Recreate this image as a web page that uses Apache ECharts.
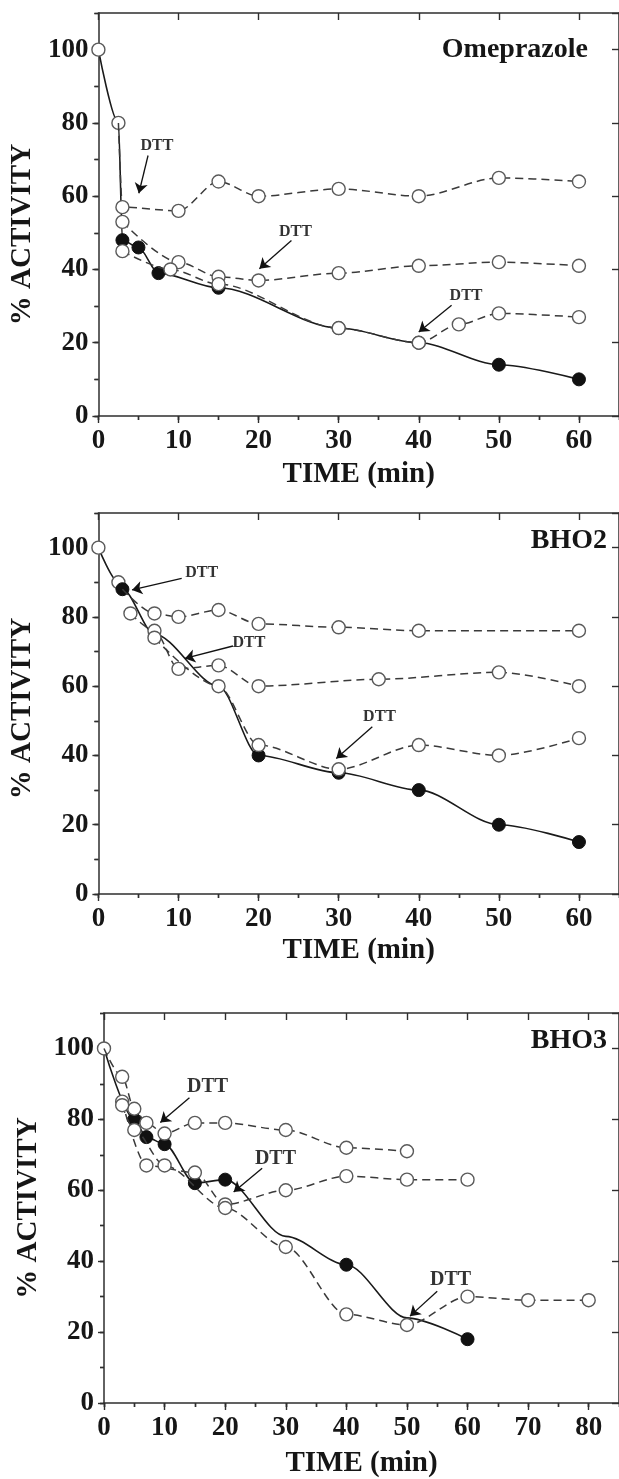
<!DOCTYPE html>
<html><head><meta charset="utf-8">
<script src="https://cdn.jsdelivr.net/npm/echarts/dist/echarts.min.js"></script>
<style>html,body{margin:0;padding:0;background:#fff}#c{width:619px;height:1479px}</style>
</head><body><div id="c"></div>
<script>
// ---------------- DATA ----------------
// Panel 1: Omeprazole
const omeTitle = 'Omeprazole';
const omeCtrlT = [0, 2.5, 3, 5, 7.5, 15, 30, 40, 50, 60];
const omeCtrlV = [100, 80, 48, 46, 39, 35, 24, 20, 14, 10];
const omeCtrlM = ['o', 'o', 'f', 'f', 'f', 'f', 'f', 'f', 'f', 'f'];
const omeAT = [2.5, 3, 10, 15, 20, 30, 40, 50, 60];
const omeAV = [80, 57, 56, 64, 60, 62, 60, 65, 64];
const omeBT = [3, 10, 15, 20, 30, 40, 50, 60];
const omeBV = [53, 42, 38, 37, 39, 41, 42, 41];
const omeCT = [3, 9, 15, 30, 40, 45, 50, 60];
const omeCV = [45, 40, 36, 24, 20, 25, 28, 27];
const omeDttText = [[7.3, 73.6], [24.6, 50.2], [45.9, 32.9]];
const omeDttArrow = [[6.2, 71.1, 5.05, 60.8], [24.1, 47.9, 20.1, 40.2], [44.1, 30.2, 40.0, 22.9]];

// Panel 2: BHO2
const bho2Title = 'BHO2';
const bho2CtrlT = [0, 2.5, 3, 7, 15, 20, 30, 40, 50, 60];
const bho2CtrlV = [100, 90, 88, 75, 60, 40, 35, 30, 20, 15];
const bho2CtrlM = ['o', 'o', 'f', 'n', 'n', 'f', 'f', 'f', 'f', 'f'];
const bho2AT = [3, 7, 10, 15, 20, 30, 40, 60];
const bho2AV = [88, 81, 80, 82, 78, 77, 76, 76];
const bho2BT = [4, 7, 10, 15, 20, 35, 50, 60];
const bho2BV = [81, 76, 65, 66, 60, 62, 64, 60];
const bho2CT = [7, 15, 20, 30, 40, 50, 60];
const bho2CV = [74, 60, 43, 36, 43, 40, 45];
const bho2DttText = [[12.9, 92.6], [18.8, 72.4], [35.1, 51.2]];
const bho2DttArrow = [[10.4, 91.1, 4.2, 87.8], [16.8, 71.6, 10.8, 68.0], [34.2, 48.3, 29.7, 39.1]];

// Panel 3: BHO3
const bho3Title = 'BHO3';
const bho3CtrlT = [0, 5, 7, 10, 15, 20, 30, 40, 50, 60];
const bho3CtrlV = [100, 80, 75, 73, 62, 63, 47, 39, 24, 18];
const bho3CtrlM = ['o', 'f', 'f', 'f', 'f', 'f', 'n', 'f', 'n', 'f'];
const bho3AT = [0, 3, 5, 7, 10, 15, 20, 30, 40, 50];
const bho3AV = [100, 92, 83, 79, 76, 79, 79, 77, 72, 71];
const bho3BT = [3, 7, 15, 20, 30, 40, 50, 60];
const bho3BV = [85, 67, 65, 56, 60, 64, 63, 63];
const bho3CT = [3, 5, 10, 20, 30, 40, 50, 60, 70, 80];
const bho3CV = [84, 77, 67, 55, 44, 25, 22, 30, 29, 29];
const bho3DttText = [[17.1, 89.2], [28.3, 68.8], [57.2, 34.7]];
const bho3DttArrow = [[14.1, 86.1, 9.3, 79.1], [26.1, 66.2, 21.4, 59.5], [55.0, 31.5, 50.5, 24.5]];

const xTickMajor = 10, xTickMinor = 5, yTickMajor = 20, yTickMinor = 10;
const xName = 'TIME (min)', yName = '% ACTIVITY', dttWord = 'DTT';

// ---------------- LAYOUT / STYLE ----------------
const FONT = '"Liberation Serif","Times New Roman",Times,serif';
const INK = '#161616';
const AX = '#2e2e2e';

const panels = [
  { title: omeTitle, xMax: 65, grid: { left: 92, top: 13, width: 528, height: 403 },
    titlePos: { right: 31, top: 36 }, xNameGap: 44, yNameGap: 45, yNameShift: 40, dttSize: 16,
    ctrl: [omeCtrlT, omeCtrlV, omeCtrlM], dashed: [[omeAT, omeAV], [omeBT, omeBV], [omeCT, omeCV]],
    dttText: omeDttText, dttArrow: omeDttArrow },
  { title: bho2Title, xMax: 65, grid: { left: 96, top: 513, width: 527, height: 381 },
    titlePos: { right: 12, top: 527 }, xNameGap: 42, yNameGap: 48, yNameShift: 10, dttSize: 16,
    ctrl: [bho2CtrlT, bho2CtrlV, bho2CtrlM], dashed: [[bho2AT, bho2AV], [bho2BT, bho2BV], [bho2CT, bho2CV]],
    dttText: bho2DttText, dttArrow: bho2DttArrow },
  { title: bho3Title, xMax: 85, grid: { left: 104, top: 1013, width: 519, height: 393 },
    titlePos: { right: 12, top: 1027 }, xNameGap: 46, yNameGap: 56, yNameShift: 0, dttSize: 20,
    ctrl: [bho3CtrlT, bho3CtrlV, bho3CtrlM], dashed: [[bho3AT, bho3AV], [bho3BT, bho3BV], [bho3CT, bho3CV]],
    dttText: bho3DttText, dttArrow: bho3DttArrow }
];

const txt = (size) => ({ fontFamily: FONT, fontWeight: 'bold', fontSize: size, color: INK });
const openStyle = { color: '#fff', borderColor: '#5a5a5a', borderWidth: 1.4 };
const fillStyle = { color: '#111', borderColor: '#111', borderWidth: 1 };

const option = { animation: false, backgroundColor: '#fff', grid: [], xAxis: [], yAxis: [], series: [], title: [] };

panels.forEach((p, i) => {
  option.grid.push(Object.assign({ containLabel: false }, p.grid));
  const line = { show: true, onZero: false, lineStyle: { color: AX, width: 1.5 } };
  const tick = (len, inside) => ({ show: true, length: len, inside: inside, lineStyle: { color: AX, width: 1.4 } });
  const base = (extra) => Object.assign({ gridIndex: i, type: 'value', splitLine: { show: false } }, extra);
  // x axes: bottom major, bottom minor, top major, top minor
  option.xAxis.push(base({ min: 0, max: p.xMax, interval: xTickMajor, position: 'bottom', axisLine: line, axisTick: tick(7, false),
    axisLabel: Object.assign({ margin: 12, showMaxLabel: false }, txt(27)),
    name: xName, nameLocation: 'middle', nameGap: p.xNameGap, nameTextStyle: txt(29) }));
  option.xAxis.push(base({ min: 0, max: p.xMax, interval: xTickMinor, position: 'bottom', axisLine: { show: false }, axisTick: tick(4, false), axisLabel: { show: false } }));
  option.xAxis.push(base({ min: 0, max: p.xMax, interval: xTickMajor, position: 'top', axisLine: line, axisTick: tick(7, true), axisLabel: { show: false } }));
  option.xAxis.push(base({ min: 0, max: p.xMax, interval: xTickMinor, position: 'top', axisLine: { show: false }, axisTick: tick(4, true), axisLabel: { show: false } }));
  // y axes: left major, left minor, right major, right minor
  option.yAxis.push(base({ min: 0, max: 110, interval: yTickMajor, position: 'left', axisLine: line, axisTick: tick(6, false),
    axisLabel: Object.assign({ margin: 10, showMaxLabel: false }, txt(27)),
    name: yName, nameLocation: 'middle', nameGap: p.yNameGap, nameRotate: 90,
    nameTextStyle: Object.assign({ padding: [0, p.yNameShift, 0, 0] }, txt(29)) }));
  option.yAxis.push(base({ min: 0, max: 110, interval: yTickMinor, position: 'left', axisLine: { show: false }, axisTick: tick(4, false), axisLabel: { show: false } }));
  option.yAxis.push(base({ min: 0, max: 110, interval: yTickMajor, position: 'right', axisLine: line, axisTick: tick(7, true), axisLabel: { show: false } }));
  option.yAxis.push(base({ min: 0, max: 110, interval: yTickMinor, position: 'right', axisLine: { show: false }, axisTick: tick(4, true), axisLabel: { show: false } }));

  const xi = i * 4, yi = i * 4;
  const [cT, cV, cM] = p.ctrl;
  option.series.push({
    type: 'line', xAxisIndex: xi, yAxisIndex: yi, z: 2, smooth: 0.3, smoothMonotone: 'x',
    showSymbol: true, showAllSymbol: true, symbolSize: 13,
    lineStyle: { color: '#1a1a1a', width: 1.6 },
    data: cT.map((t, k) => ({ value: [t, cV[k]], symbol: cM[k] === 'n' ? 'none' : 'circle',
      itemStyle: cM[k] === 'f' ? fillStyle : openStyle }))
  });
  p.dashed.forEach(([dT, dV], j) => {
    const ci = cT.indexOf(dT[0]);
    const shared = ci >= 0 && cV[ci] === dV[0];
    option.series.push({
      type: 'line', xAxisIndex: xi, yAxisIndex: yi, z: 3, smooth: 0.3, smoothMonotone: 'x',
      showSymbol: true, showAllSymbol: true, symbolSize: 13,
      lineStyle: { color: '#3a3a3a', width: 1.5, type: [8, 5] },
      data: dT.map((t, k) => ({ value: [t, dV[k]], symbol: (k === 0 && shared) ? 'none' : 'circle', itemStyle: openStyle }))
    });
  });
  // DTT arrows + labels
  option.series.push({
    type: 'scatter', xAxisIndex: xi, yAxisIndex: yi, z: 6, symbolSize: 1, itemStyle: { color: 'rgba(255,255,255,0)' },
    label: Object.assign({ show: true, position: 'inside', formatter: dttWord }, txt(p.dttSize), { color: '#000' }),
    data: p.dttText.map(d => d.slice()),
    markLine: { silent: true, symbol: ['none', 'arrow'], symbolSize: 10, precision: 3, z: 6,
      lineStyle: { type: 'solid', color: '#111', width: 1.3 }, itemStyle: { color: '#111' }, label: { show: false },
      data: p.dttArrow.map(a => [{ coord: [a[0], a[1]] }, { coord: [a[2], a[3]] }]) }
  });
  option.title.push({ text: p.title, right: p.titlePos.right, top: p.titlePos.top, padding: 0, textStyle: txt(28) });
});

const chart = echarts.init(document.getElementById('c'), null, { renderer: 'canvas' });
chart.setOption(option);
</script></body></html>
